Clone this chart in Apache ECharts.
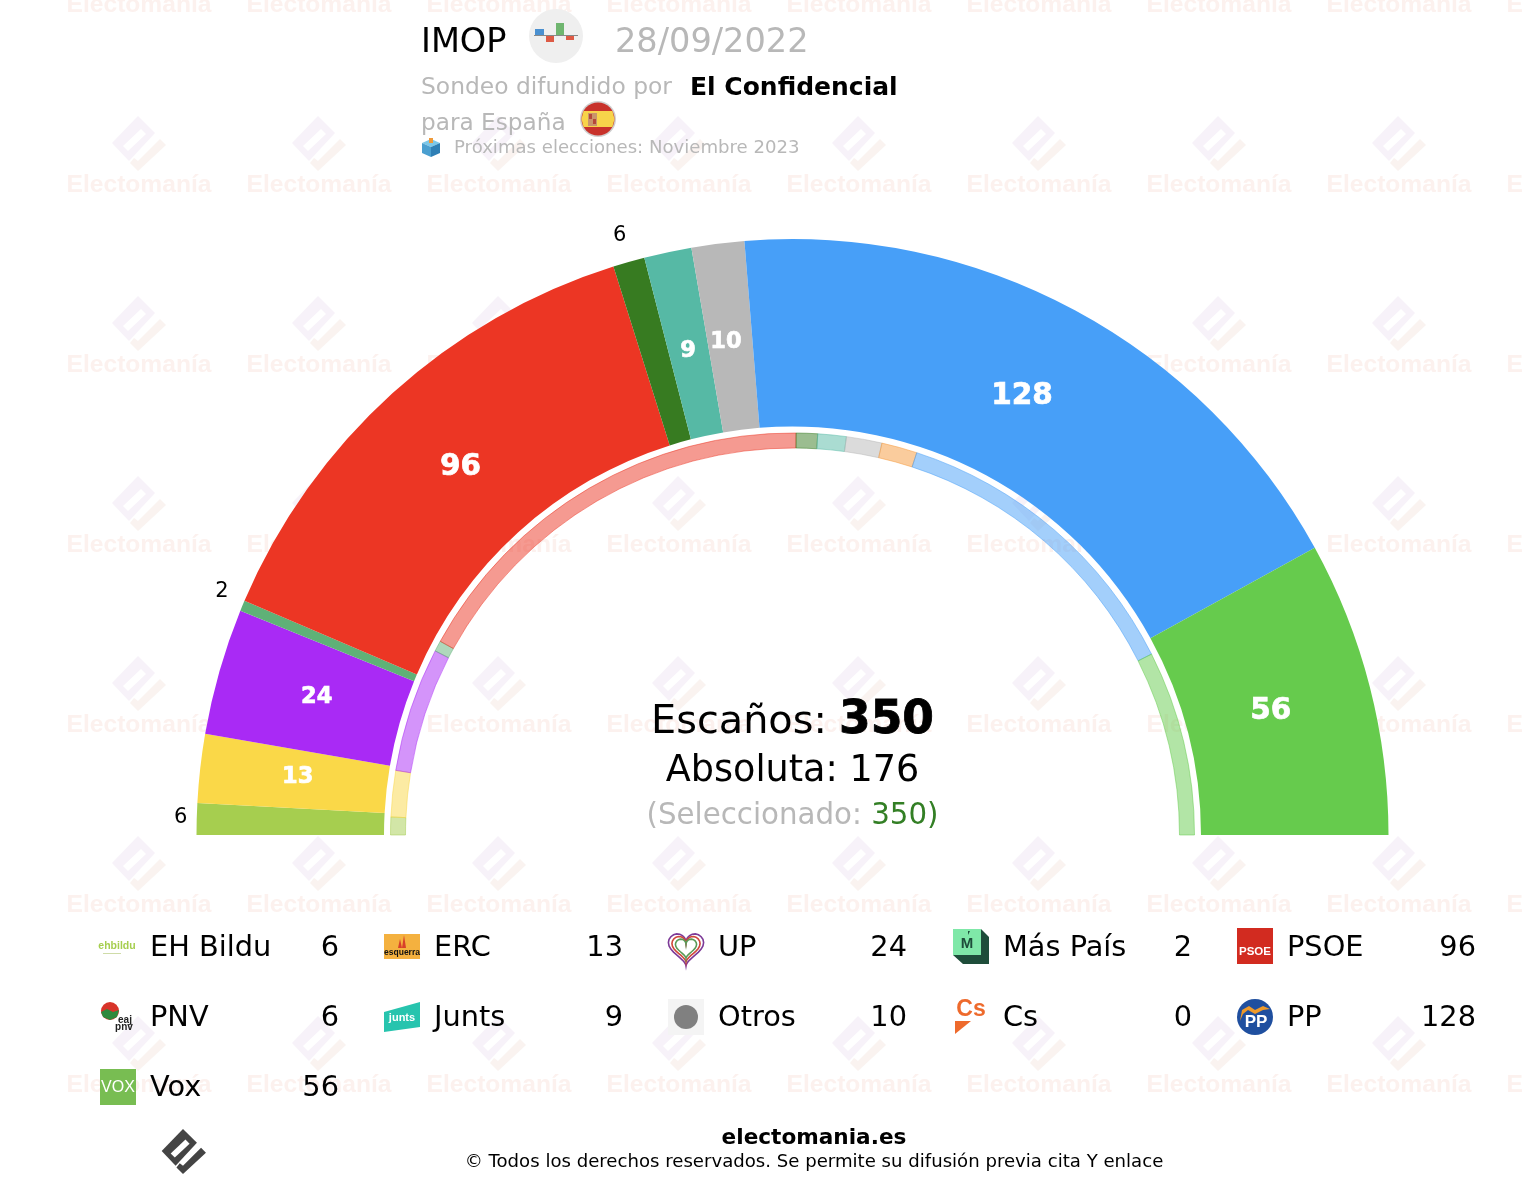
<!DOCTYPE html>
<html><head><meta charset="utf-8">
<style>html,body{margin:0;padding:0;background:#fff}#c{width:1524px;height:1190px}</style>
<script src="https://cdn.jsdelivr.net/npm/echarts@6/dist/echarts.min.js"></script>
</head><body><div id="c"></div>
<script>
const parties   = ['EH Bildu','ERC','UP','Más País','PSOE','PNV','Junts','Otros','Cs','PP','Vox'];
const seats     = [6,13,24,2,96,6,9,10,0,128,56];
const prevSeats = [5,13,35,3,120,6,8,10,10,88,52];
const colors    = ['#a6ce4f','#fad848','#a92af5','#5fb177','#ec3624','#377b21','#56b9a5','#b8b8b8','#f59a3c','#479ff8','#66cb4d'];
const legendOrder = ['EH Bildu','ERC','UP','Más País','PSOE','PNV','Junts','Otros','Cs','PP','Vox'];
const labelNudge = {'PP':[-7,1],'Vox':[-5,0],'PSOE':[3,2],'UP':[4,-1],'ERC':[1,-2],'Otros':[-4,2],'Junts':[0,4],'EH Bildu':[17,-1],'Más País':[10,-1],'PNV':[0,5]};
const FONT = '"DejaVu Sans", Verdana, sans-serif';
const CENTER = [792.5, 835];
const g = [];
const txt = (x,y,text,size,fill,o={}) => g.push({type:'text',x,y,z:o.z||5,silent:true,style:Object.assign({text,fontFamily:o.font||FONT,fontSize:size,fontWeight:o.w||'normal',fill,align:o.a||'left',verticalAlign:'middle'},o.s||{})});
const rect = (x,y,w,h,fill,o={}) => g.push({type:'rect',z:o.z||5,silent:true,shape:{x,y,width:w,height:h},style:{fill}});
const circ = (cx,cy,r,fill,o={}) => g.push({type:'circle',z:o.z||5,silent:true,shape:{cx,cy,r},style:Object.assign({fill},o.s||{})});
const poly = (pts,fill,o={}) => g.push({type:'polygon',z:o.z||5,silent:true,shape:{points:pts},style:Object.assign({fill},o.s||{})});

// watermark + brand logo
const logo = (ox,oy,k,c1,c2,c3,z) => {
  const p = a => a.map(q=>[ox+q[0]*k,oy+q[1]*k]);
  poly(p([[0,-24],[17,-7],[-9,21],[-26,3]]),c1,{z});
  poly(p([[3,-11],[8,-6],[-10,11],[-15,6]]),c3,{z});
  poly(p([[22,-1],[28,5],[0,31],[-8,23],[-4,18],[0,21]]),c2,{z});
};
for (let r=0;r<7;r++) for (let k=0;k<9;k++) {
  const x=139+180*k, y=5+180*r;
  logo(x-1,y-45,1,'#f7f2f9','#faf3f0','#ffffff',1);
  g.push({type:'text',x,y,z:1,silent:true,style:{text:'Electomanía',fontFamily:'"Liberation Sans",Arial,sans-serif',fontWeight:'bold',fontSize:24.6,align:'center',verticalAlign:'middle',fill:'#fcf1ee'}});
}
logo(183,1148.6,0.82,'#444444','#444444','#ffffff',5);

// header
txt(421,43,'IMOP',33.6,'#000');
circ(556,36,27,'#efefef');
rect(534,35,44,1,'#888');
rect(535,29,9,6,'#4a90d0'); rect(546,36,8,6,'#dd5a45'); rect(556,23,8,12,'#6fb56f'); rect(566,36,8,4,'#dd5a45');
txt(615,43,'28/09/2022',33.6,'#b8b8b8');
txt(421,88,'Sondeo difundido por',23.4,'#b8b8b8');
txt(690,88,'El Confidencial',25,'#000',{w:'bold'});
txt(421,124,'para España',23.2,'#b8b8b8');
circ(598,119,18,'#cfcfcf');
circ(598,119,16.5,'#c8322b');
poly([[583.6,111],[612.4,111],[614.5,119],[612.4,127],[583.6,127],[581.5,119]],'#f7d44a');
rect(588,113,9,13,'#c9956b');
rect(589,114,3,5,'#b5483a'); rect(593,119,3,5,'#b5483a');
poly([[422,143],[431,139],[440,143],[431,147]],'#7cc7e8');
poly([[422,143],[431,147],[431,157],[422,153]],'#4a9fd0');
poly([[440,143],[431,147],[431,157],[440,153]],'#2f7fb5');
rect(429,138,4,5,'#ef9a3a');
txt(454,148,'Próximas elecciones: Noviembre 2023',18.1,'#b8b8b8');

// centre text
txt(651,723,'Escaños:',39.8,'#000');
txt(839,721,'350',45.5,'#000',{w:'bold',s:{stroke:'#000',lineWidth:.8}});
txt(792.5,771,'Absoluta: 176',36.6,'#000',{a:'center'});
g.push({type:'text',x:792.5,y:816,z:5,silent:true,style:{text:'{a|(Seleccionado: }{b|350)}',align:'center',verticalAlign:'middle',fontFamily:FONT,
  rich:{a:{fontFamily:FONT,fontSize:29.3,fill:'#b8b8b8'},b:{fontFamily:FONT,fontSize:29.3,fill:'#337f25'}}}});

// legend
const colX=[100,384,668,953,1237], rowY=[947,1017,1087];
const heart = (cx,cy,k) => { const a=[]; for(let i=0;i<40;i++){const t=i/40*2*Math.PI;
  a.push([cx+k*16*Math.pow(Math.sin(t),3), cy-k*(13*Math.cos(t)-5*Math.cos(2*t)-2*Math.cos(3*t)-Math.cos(4*t))]);} return a; };
const icons = {
 'EH Bildu':(x,y)=>{txt(x+17,y-1,'ehbildu',10.5,'#a6ce4f',{a:'center',w:'bold',font:'"Liberation Sans Narrow","Liberation Sans",sans-serif'});rect(x+3,y+6,18,1,'#cfdca8');},
 'ERC':(x,y)=>{rect(x,y-13,36,25,'#f4b13f');poly([[x+14,y+1],[x+16,y-8],[x+18,y+1]],'#d8402a');poly([[x+18,y+1],[x+20,y-12],[x+22,y+1]],'#d8402a');txt(x+18,y+6,'esquerra',8.5,'#111',{a:'center',w:'bold',font:'"Liberation Sans",sans-serif'});},
 'UP':(x,y)=>{[[1.1,'#7d3a98'],[.88,'#d0463a'],[.66,'#5a9a55']].forEach(a=>poly(heart(x+18,y,a[0]),'none',{s:{stroke:a[1],lineWidth:1.6}}));},
 'Más País':(x,y)=>{poly([[x+28,y-18],[x+36,y-10],[x+36,y+17],[x+10,y+17],[x,y+8],[x+28,y+8]],'#1e4d3a');rect(x,y-18,28,26,'#7fe8a8');txt(x+14,y-3,'M',15,'#1e4d3a',{a:'center',w:'bold',font:'"Liberation Sans",sans-serif'});poly([[x+15,y-16],[x+17,y-16],[x+15,y-12]],'#1e4d3a');},
 'PSOE':(x,y)=>{rect(x,y-19,36,36,'#d22b20');txt(x+18,y+5,'PSOE',11.5,'#fff',{a:'center',w:'bold',font:'"Liberation Sans Narrow","Liberation Sans",sans-serif'});},
 'PNV':(x,y)=>{circ(x+10,y-6,9,'#d8342a');poly([[x+1,y-5],[x+7,y-8],[x+13,y-5],[x+19,y-7],[x+17,y],[x+10,y+3],[x+3,y]],'#2f8a3c');txt(x+25,y+3,'eaj',10,'#222',{a:'center',w:'bold',font:'"Liberation Sans Narrow",sans-serif'});txt(x+24,y+10,'pnv',10,'#222',{a:'center',w:'bold',font:'"Liberation Sans Narrow",sans-serif'});},
 'Junts':(x,y)=>{poly([[x,y-5],[x+36,y-15],[x+36,y+10],[x,y+15]],'#27c4ae');txt(x+18,y+1,'junts',11,'#fff',{a:'center',w:'bold',font:'"Liberation Sans",sans-serif'});},
 'Otros':(x,y)=>{rect(x,y-18,36,36,'#f4f4f4');circ(x+18,y,12,'#808080');},
 'Cs':(x,y)=>{txt(x+18,y-7,'Cs',23,'#ee6a2c',{a:'center',w:'bold',font:'"Liberation Sans",sans-serif'});poly([[x+2,y+4],[x+18,y+4],[x+2,y+17]],'#ee6a2c');},
 'PP':(x,y)=>{circ(x+18,y,18,'#1f4f9f');poly([[x+3,y+4],[x+5,y-7],[x+12,y-11],[x+18,y-7],[x+26,y-11],[x+33,y-8],[x+26,y-7],[x+18,y-3],[x+11,y-7],[x+6,y-3]],'#ef9a2a');txt(x+19,y+5,'PP',17,'#fff',{a:'center',w:'bold',font:'"Liberation Sans Narrow","Liberation Sans",sans-serif'});},
 'Vox':(x,y)=>{rect(x,y-18,36,36,'#78bd52');txt(x+18,y+1,'VOX',16,'#fff',{a:'center',font:'"Liberation Sans",sans-serif'});}
};
legendOrder.forEach((n,i)=>{
  const x=colX[i%5], y=rowY[Math.floor(i/5)];
  icons[n](x,y);
  txt(x+50,y+2,n,28.8,'#000');
  txt(x+239,y+2,String(seats[parties.indexOf(n)]),28.8,'#000',{a:'right'});
});

// footer
txt(814,1138,'electomania.es',21.6,'#000',{a:'center',w:'bold'});
txt(814,1162,'© Todos los derechos reservados. Se permite su difusión previa cita Y enlace',18.13,'#000',{a:'center'});

const base = {type:'pie',center:CENTER,startAngle:180,endAngle:0,clockwise:true,silent:true,animation:false,avoidLabelOverlap:false,minShowLabelAngle:0,labelLine:{show:false},stillShowZeroSum:true};
const big = v => v>=50;
const nudge = p => { const d=labelNudge[parties[p.dataIndex]]; return d?{dx:d[0],dy:d[1]}:{}; };
const option = {
  backgroundColor:'#fff',
  graphic:{elements:g},
  series:[
    Object.assign({},base,{name:'Escaños',radius:[408.5,596],label:{show:false},
      data:parties.map((n,i)=>({name:n,value:seats[i],itemStyle:{color:colors[i]}}))}),
    Object.assign({},base,{name:'Anterior',radius:[387,402],label:{show:false},
      data:parties.map((n,i)=>({name:n,value:prevSeats[i],itemStyle:{color:colors[i],opacity:.5,borderColor:colors[i],borderWidth:1}}))}),
    Object.assign({},base,{name:'Etiquetas',radius:[486,506],z:6,labelLayout:nudge,
      data:parties.map((n,i)=>({name:n,value:seats[i],itemStyle:{color:'rgba(0,0,0,0)'},
        label:{show:seats[i]>6,position:'inside',formatter:'{c}',color:'#fff',fontFamily:FONT,fontWeight:'bold',fontSize:big(seats[i])?29.5:22.5,textBorderColor:'#fff',textBorderWidth:.7}}))}),
    Object.assign({},base,{name:'Etiquetas fuera',radius:[616,636],z:6,labelLayout:nudge,
      data:parties.map((n,i)=>({name:n,value:seats[i],itemStyle:{color:'rgba(0,0,0,0)'},
        label:{show:seats[i]>0&&seats[i]<=6,position:'inside',formatter:'{c}',color:'#000',fontFamily:FONT,fontSize:21}}))})
  ]
};
echarts.init(document.getElementById('c'),null,{renderer:'canvas'}).setOption(option);
</script></body></html>
